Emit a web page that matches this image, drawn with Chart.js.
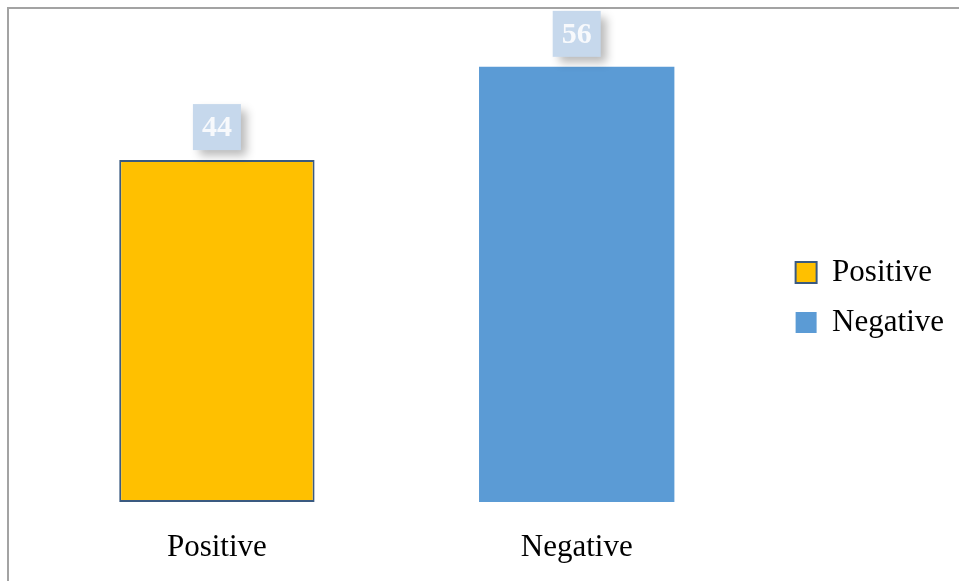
<!DOCTYPE html>
<html>
<head>
<meta charset="utf-8">
<script src="https://cdn.jsdelivr.net/npm/chart.js@4"></script>
<style>
  html, body { margin: 0; padding: 0; background: #fff; }
  #wrap { position: relative; width: 959px; height: 581px; }
</style>
</head>
<body>
<div id="wrap"><canvas id="c" width="959" height="581"></canvas></div>
<script>
// Sentiment split, in percent
const categories = ['Positive', 'Negative'];
const seriesNames = ['Positive', 'Negative'];
const positiveValues = [44, null];
const negativeValues = [null, 56];

const serif = "'Liberation Serif', 'Times New Roman', serif";

// Gray frame along the top and left edges
const framePlugin = {
  id: 'frame',
  beforeDraw(chart) {
    const ctx = chart.ctx;
    ctx.save();
    ctx.strokeStyle = '#a3a3a3';
    ctx.lineWidth = 2;
    ctx.beginPath();
    ctx.moveTo(8, chart.height);
    ctx.lineTo(8, 8);
    ctx.lineTo(chart.width, 8);
    ctx.stroke();
    ctx.restore();
  }
};

// Value callouts: a pale blue tile with a soft shadow above each bar
const calloutPlugin = {
  id: 'callouts',
  afterDatasetsDraw(chart) {
    const ctx = chart.ctx;
    const w = 48, h = 46, gap = 10;
    chart.data.datasets.forEach((ds, di) => {
      const meta = chart.getDatasetMeta(di);
      meta.data.forEach((bar, i) => {
        const v = ds.data[i];
        if (v === null || v === undefined) return;
        const x = bar.x - w / 2;
        const y = bar.y - gap - h;
        ctx.save();
        ctx.shadowColor = 'rgba(0,0,0,0.28)';
        ctx.shadowBlur = 9;
        ctx.shadowOffsetX = 6;
        ctx.shadowOffsetY = 6;
        ctx.fillStyle = 'rgb(198,216,236)';
        ctx.fillRect(x, y, w, h);
        ctx.restore();
        ctx.save();
        ctx.fillStyle = '#f7f9fc';
        ctx.font = 'bold 30px ' + serif;
        ctx.textAlign = 'center';
        ctx.textBaseline = 'middle';
        ctx.fillText(String(v), bar.x, y + h / 2 + 1);
        ctx.restore();
      });
    });
  }
};

new Chart(document.getElementById('c'), {
  type: 'bar',
  data: {
    labels: categories,
    datasets: [
      {
        label: seriesNames[0],
        data: positiveValues,
        backgroundColor: '#ffc000',
        borderColor: '#3a5a80',
        borderWidth: 2,
        borderSkipped: false
      },
      {
        label: seriesNames[1],
        data: negativeValues,
        backgroundColor: '#5b9bd5',
        borderColor: '#5b9bd5',
        borderWidth: 0
      }
    ]
  },
  options: {
    responsive: false,
    animation: false,
    layout: { padding: { left: 37, right: 5, top: 14, bottom: 0 } },
    datasets: {
      bar: { grouped: false, categoryPercentage: 1, barPercentage: 0.543 }
    },
    plugins: {
      legend: {
        position: 'right',
        labels: {
          boxWidth: 21,
          boxHeight: 21,
          padding: 19,
          color: '#000',
          font: { family: serif, size: 31 }
        }
      },
      tooltip: { enabled: false }
    },
    scales: {
      x: {
        grid: { display: false, drawTicks: false },
        border: { display: false },
        ticks: { color: '#000', padding: 27, font: { family: serif, size: 31 } },
        afterFit(scale) { scale.height = 79; }
      },
      y: {
        position: 'right',
        min: 0,
        max: 62.8,
        grid: { display: false, drawTicks: false },
        border: { display: false },
        ticks: { display: false },
        afterFit(scale) { scale.width = 20; }
      }
    }
  },
  plugins: [framePlugin, calloutPlugin]
});
</script>
</body>
</html>
